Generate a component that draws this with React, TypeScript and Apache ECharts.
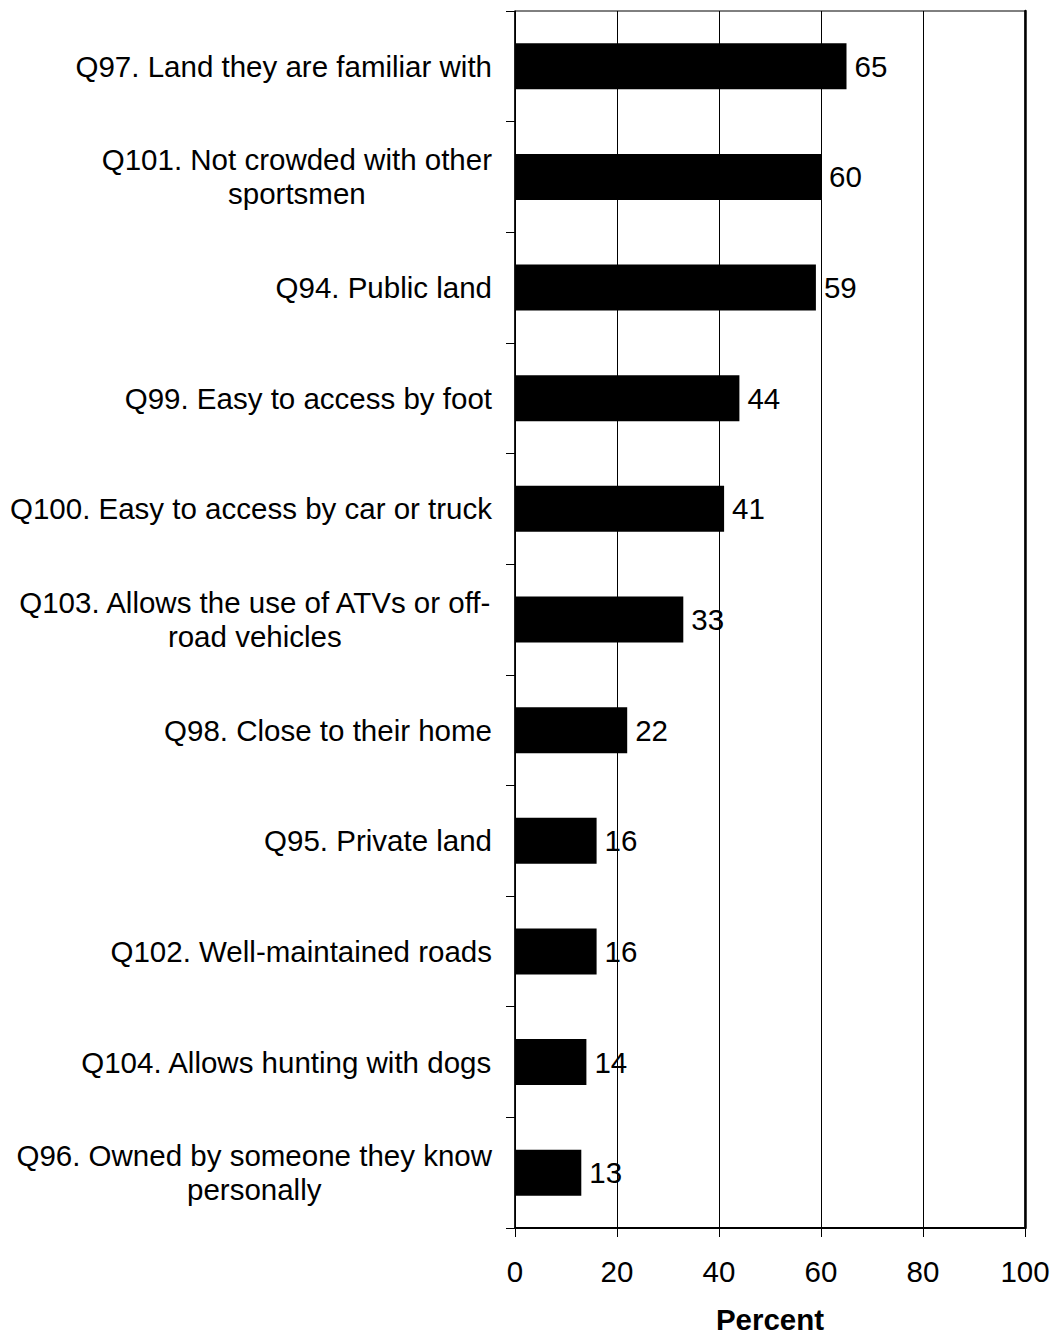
import React, { useEffect, useRef } from "react";
import * as echarts from "echarts";

const categories: string[] = [
  "Q97. Land they are familiar with",
  "Q101. Not crowded with other\nsportsmen",
  "Q94. Public land",
  "Q99. Easy to access by foot",
  "Q100. Easy to access by car or truck",
  "Q103. Allows the use of ATVs or off-\nroad vehicles",
  "Q98. Close to their home",
  "Q95. Private land",
  "Q102. Well-maintained roads",
  "Q104. Allows hunting with dogs",
  "Q96. Owned by someone they know\npersonally",
];

const percentValues: number[] = [65, 60, 59, 44, 41, 33, 22, 16, 16, 14, 13];

const xTicks = { min: 0, max: 100, interval: 20 };
const xAxisName = "Percent";

const FONT = 'Arial, "Liberation Sans", Helvetica, sans-serif';
const FS = 29.5;

export default function App() {
  const ref = useRef<HTMLDivElement>(null);

  useEffect(() => {
    if (!ref.current) return;
    const chart = echarts.init(ref.current, undefined, { renderer: "svg" });
    chart.setOption({
      animation: false,
      backgroundColor: "#ffffff",
      textStyle: { fontFamily: FONT, color: "#000" },
      grid: {
        left: 515,
        right: 30,
        top: 11,
        bottom: 106,
        containLabel: false,
        outerBoundsMode: "none",
        show: true,
        borderColor: "#000",
        borderWidth: 1,
        backgroundColor: "transparent",
      },
      xAxis: {
        type: "value",
        min: xTicks.min,
        max: xTicks.max,
        interval: xTicks.interval,
        position: "bottom",
        name: xAxisName,
        nameLocation: "middle",
        nameGap: 78,
        nameTextStyle: {
          fontFamily: FONT,
          fontSize: FS,
          lineHeight: 26,
          fontWeight: "bold",
          color: "#000",
        },
        axisLine: { show: true, lineStyle: { color: "#000", width: 2 } },
        axisTick: { show: true, inside: false, length: 9, lineStyle: { color: "#000", width: 1 } },
        axisLabel: { fontFamily: FONT, fontSize: FS, color: "#000", margin: 28 },
        splitLine: { show: true, lineStyle: { color: "#000", width: 1 } },
      },
      yAxis: [
        {
          type: "category",
          data: categories,
          inverse: true,
          position: "left",
          axisLine: { show: true, lineStyle: { color: "#000", width: 1.5 } },
          axisTick: { show: true, inside: false, length: 9, alignWithLabel: false, lineStyle: { color: "#000", width: 1 } },
          axisLabel: {
            margin: 23,
            color: "#000",
            fontFamily: FONT,
            fontSize: FS,
            lineHeight: 33,
            formatter: (v: string) =>
              v
                .split("\n")
                .map((l) => `{c|${l}}`)
                .join("\n"),
            rich: {
              c: {
                align: "center",
                fontFamily: FONT,
                fontSize: FS,
                lineHeight: 34,
                color: "#000",
              },
            },
          },
          splitLine: { show: false },
        },
        {
          type: "category",
          data: categories,
          inverse: true,
          position: "right",
          axisLine: { show: true, lineStyle: { color: "#000", width: 2.5 } },
          axisTick: { show: false },
          axisLabel: { show: false },
          splitLine: { show: false },
        },
      ],
      series: [
        {
          type: "bar",
          yAxisIndex: 0,
          data: percentValues,
          barWidth: 46,
          itemStyle: { color: "#000" },
          label: {
            show: true,
            position: "right",
            distance: 8,
            color: "#000",
            fontFamily: FONT,
            fontSize: FS,
          },
        },
      ],
    });
    return () => chart.dispose();
  }, []);

  return (
    <div
      ref={ref}
      style={{ position: "fixed", left: 0, top: 0, width: 1055, height: 1334, background: "#fff" }}
    />
  );
}
